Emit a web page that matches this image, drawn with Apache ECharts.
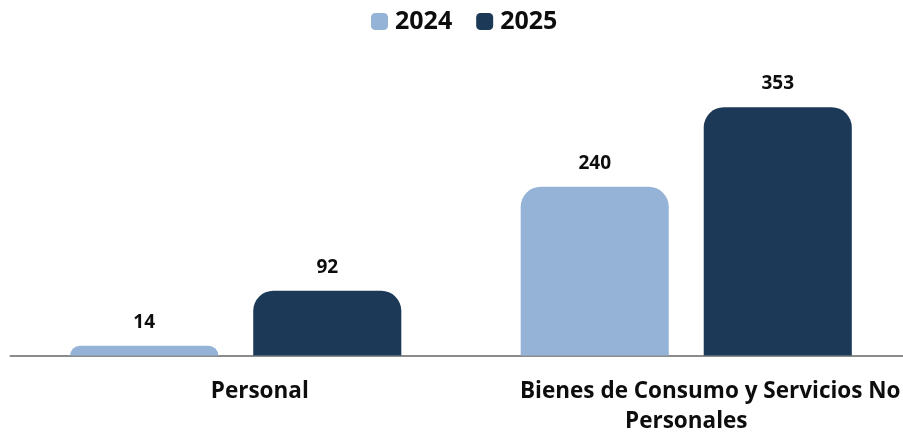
<!DOCTYPE html>
<html>
<head>
<meta charset="utf-8">
<script src="https://cdn.jsdelivr.net/npm/echarts@6/dist/echarts.min.js"></script>
<style>
  html, body { margin: 0; padding: 0; background: #ffffff; }
  #chart { width: 903px; height: 436px; }
</style>
</head>
<body>
<div id="chart"></div>
<script>
// Categories (second one wraps onto two lines)
const categories = ['Personal', 'Bienes de Consumo y Servicios No\nPersonales'];
const seriesNames = ['2024', '2025'];
const values2024 = [14, 240];
const values2025 = [92, 353];

const FONT = '"Open Sans", "Segoe UI", sans-serif';
const colors = ['#95b3d7', '#1c3a57'];

const chart = echarts.init(document.getElementById('chart'), null, { renderer: 'canvas' });

function barSeries(name, data, color) {
  return {
    name: name,
    type: 'bar',
    data: data,
    barGap: '23.6%',
    barCategoryGap: '26.5%',
    itemStyle: { color: color, borderRadius: [20, 20, 0, 0] },
    label: {
      show: true,
      position: 'top',
      distance: 14,
      color: '#0d0d0d',
      fontFamily: FONT,
      fontWeight: 'bold',
      fontSize: 19
    }
  };
}

const catText = { fontFamily: FONT, fontWeight: 'bold', fontSize: 22.5, lineHeight: 30, color: '#0d0d0d' };

chart.setOption({
  animation: false,
  backgroundColor: '#ffffff',
  legend: {
    data: seriesNames,
    left: 371,
    top: 9,
    padding: 0,
    itemWidth: 17,
    itemHeight: 17,
    itemGap: 24,
    icon: 'roundRect',
    textStyle: {
      color: '#0d0d0d',
      fontFamily: FONT,
      fontWeight: 'bold',
      fontSize: 25,
      padding: [0, 0, 0, 2]
    }
  },
  grid: {
    left: 10.5,
    right: -8.5,
    top: 74.3,
    bottom: 80.5,
    outerBoundsMode: 'none'
  },
  xAxis: {
    type: 'category',
    data: categories,
    axisLine: { show: true, lineStyle: { color: '#8c8c8c', width: 2 } },
    axisTick: { show: false },
    axisLabel: Object.assign({
      interval: 0,
      margin: 21,
      formatter: function (v) {
        return v.split('\n').map(function (line, i) {
          return (i === 0 ? '{a|' : '{b|') + line + '}';
        }).join('\n');
      },
      rich: {
        a: Object.assign({ padding: [0, 0, 0, 48] }, catText),
        b: Object.assign({}, catText)
      }
    }, catText)
  },
  yAxis: {
    type: 'value',
    min: 0,
    max: 400,
    show: false,
    splitLine: { show: false }
  },
  series: [
    barSeries(seriesNames[0], values2024, colors[0]),
    barSeries(seriesNames[1], values2025, colors[1])
  ]
});
</script>
</body>
</html>
